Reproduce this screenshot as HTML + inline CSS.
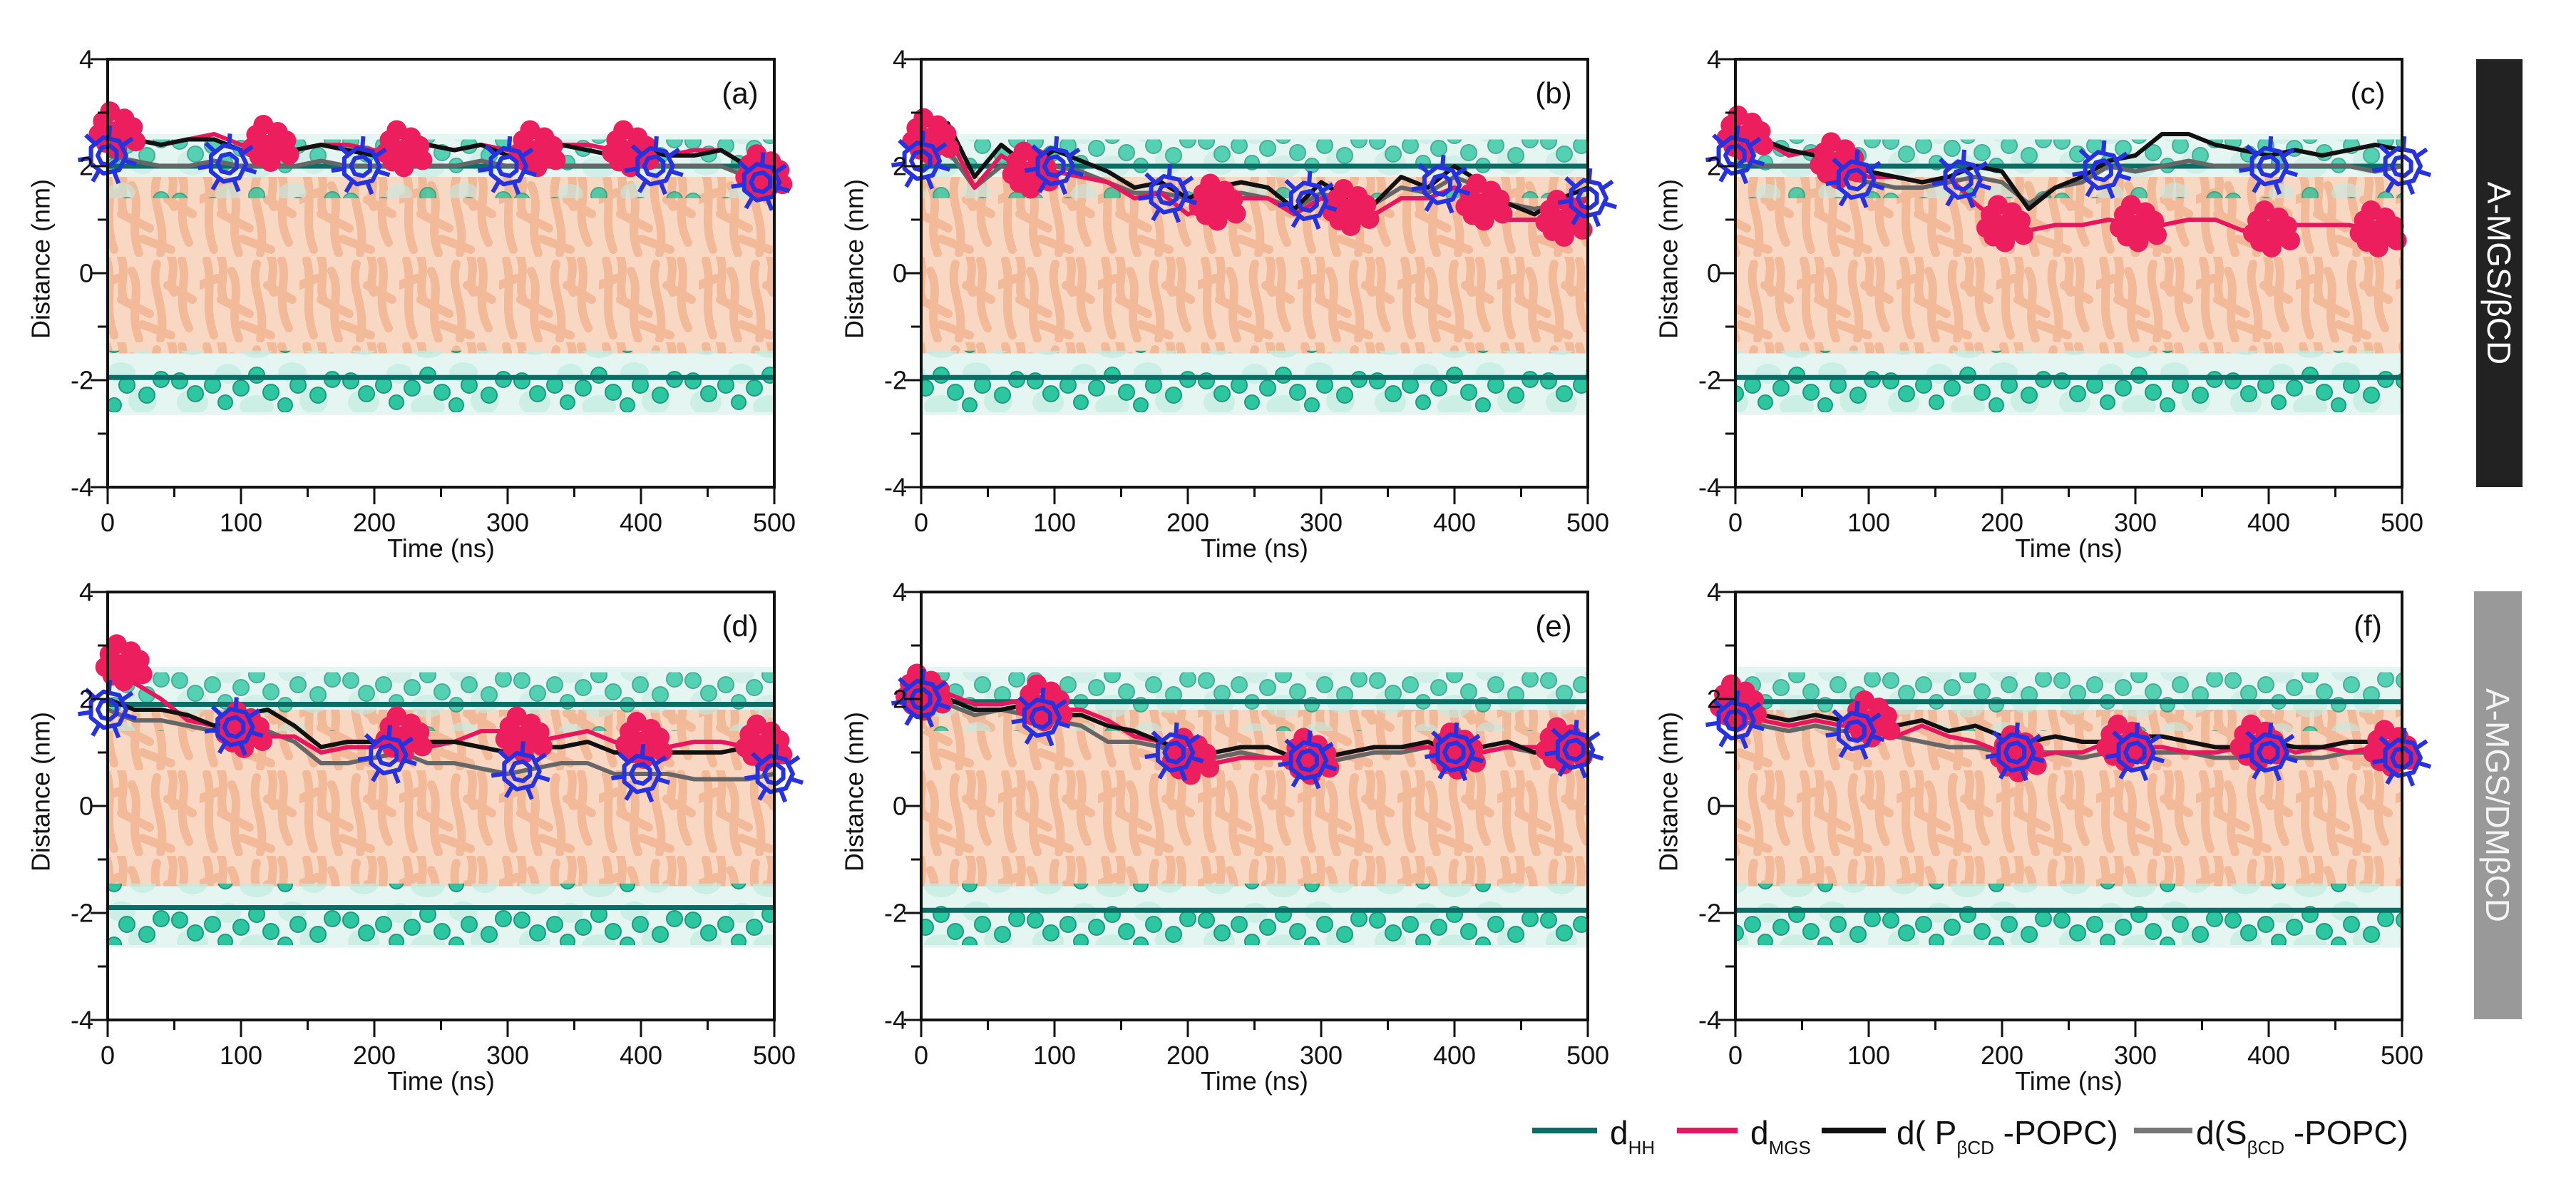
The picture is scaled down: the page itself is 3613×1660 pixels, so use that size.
<!DOCTYPE html>
<html><head><meta charset="utf-8"><title>Distance vs time panels</title>
<style>
html,body{margin:0;padding:0;background:#fff;}
svg{display:block;font-family:"Liberation Sans",Arial,sans-serif;}
</style></head>
<body>
<svg id="fig" xmlns="http://www.w3.org/2000/svg" width="3613" height="1660" viewBox="0 0 3613 1660">
<defs>
  <pattern id="tubes" patternUnits="userSpaceOnUse" width="140" height="120">
    <rect width="140" height="120" fill="#f8d6c0"/>
    <g fill="none" stroke="#efae88" stroke-width="12" stroke-linecap="round" opacity="0.8">
      <path d="M10 5 C20 40 5 70 20 110"/>
      <path d="M30 0 C38 25 26 40 34 60"/>
      <path d="M45 20 C60 50 40 75 55 115"/>
      <path d="M80 10 C70 45 95 70 85 115"/>
      <path d="M100 0 C108 20 96 38 104 50"/>
      <path d="M115 5 C125 35 105 60 125 100"/>
      <path d="M30 60 L70 80"/>
      <path d="M95 40 L130 60"/>
      <path d="M60 95 L100 110"/>
      <path d="M0 40 L25 30"/>
    </g>
  </pattern>
  <pattern id="spheres" patternUnits="userSpaceOnUse" width="240" height="84">
    <g fill="#c3ebe1" opacity="0.8">
      <ellipse cx="30" cy="60" rx="22" ry="18"/><ellipse cx="120" cy="66" rx="24" ry="16"/><ellipse cx="200" cy="58" rx="20" ry="18"/>
      <ellipse cx="80" cy="20" rx="18" ry="14"/><ellipse cx="170" cy="18" rx="20" ry="14"/>
    </g>
    <g fill="#22c49c" stroke="#139478" stroke-width="2">
      <circle cx="12" cy="30" r="11"/><circle cx="34" cy="48" r="11"/>
      <circle cx="58" cy="36" r="11"/><circle cx="98" cy="40" r="11"/>
      <circle cx="120" cy="22" r="11"/><circle cx="140" cy="46" r="11"/>
      <circle cx="178" cy="36" r="11"/><circle cx="206" cy="50" r="11"/>
      <circle cx="226" cy="28" r="11"/><circle cx="76" cy="60" r="10"/>
      <circle cx="160" cy="64" r="10"/>
    </g>
  </pattern>
</defs>
<g id="panels"></g>
<g id="legend"></g>
<g>
  <rect x="3473" y="83" width="65" height="600" fill="#222"/>
  <text x="3505" y="383" fill="#fff" font-size="46" text-anchor="middle" dominant-baseline="central" transform="rotate(90 3505 383)">A-MGS/βCD</text>
</g>
<g>
  <rect x="3470" y="829" width="67" height="600" fill="#999"/>
  <text x="3503" y="1129" fill="#f4f4f4" font-size="46" text-anchor="middle" dominant-baseline="central" transform="rotate(90 3503 1129)">A-MGS/DMβCD</text>
</g>
</svg>
<script>
// ---- data (time every 20 ns, 0..500) ----
const times = [0,20,40,60,80,100,120,140,160,180,200,220,240,260,280,300,320,340,360,380,400,420,440,460,480,500];
const panelLetters = ["(a)","(b)","(c)","(d)","(e)","(f)"];
const yTicks = [-4,-2,0,2,4];
const xTicks = [0,100,200,300,400,500];
const hhTop = [2.0,2.0,2.0,1.9,1.95,1.95];
const hhBottom = [-1.95,-1.95,-1.95,-1.9,-1.95,-1.95];

const pA = [2.6,2.5,2.4,2.5,2.5,2.3,2.4,2.3,2.4,2.3,2.2,2.3,2.4,2.3,2.4,2.2,2.2,2.4,2.3,2.2,2.3,2.2,2.2,2.3,2.0,1.6];
const sA = [2.2,2.1,2.0,2.0,2.1,2.0,2.0,2.0,2.1,2.0,2.0,2.0,2.0,2.0,2.1,2.0,2.0,2.0,2.0,2.0,2.0,2.0,2.0,2.0,1.8,1.6];
const mA = [2.7,2.5,2.4,2.5,2.6,2.4,2.4,2.3,2.4,2.4,2.3,2.3,2.4,2.3,2.4,2.3,2.3,2.4,2.4,2.3,2.3,2.2,2.3,2.3,2.0,1.7];

const pB = [2.3,2.8,1.8,2.4,2.0,2.3,2.1,1.9,1.6,1.7,1.4,1.6,1.7,1.6,1.2,1.7,1.4,1.3,1.8,1.6,2.0,1.7,1.3,1.1,1.4,1.6];
const sB = [2.1,2.3,1.6,2.0,1.9,2.0,1.9,1.7,1.5,1.5,1.4,1.5,1.5,1.4,1.2,1.5,1.3,1.3,1.6,1.5,1.8,1.6,1.3,1.2,1.3,1.4];
const mB = [2.5,2.6,1.6,2.2,1.9,1.9,1.8,1.7,1.4,1.5,1.1,1.3,1.4,1.4,1.1,1.4,1.2,1.1,1.4,1.4,1.6,1.3,1.0,1.0,1.0,1.4];

const pC = [2.5,2.5,2.3,2.2,2.1,1.9,1.8,1.7,1.8,2.0,1.9,1.2,1.6,1.8,2.1,2.2,2.6,2.6,2.4,2.3,2.2,2.3,2.2,2.3,2.4,2.3];
const sC = [2.2,2.0,2.0,2.0,1.8,1.7,1.6,1.6,1.7,1.8,1.7,1.3,1.6,1.7,2.0,1.9,2.0,2.1,2.0,2.0,2.0,2.0,2.0,2.0,1.9,2.0];
const mC = [2.6,2.5,2.2,2.3,2.0,1.8,1.8,1.7,1.8,1.3,0.9,0.8,0.9,0.9,1.0,0.9,0.9,1.0,1.0,0.8,0.8,0.9,0.9,0.9,0.8,0.9];

const pD = [2.0,1.8,1.8,1.7,1.5,1.7,1.8,1.5,1.1,1.2,1.2,1.4,1.2,1.2,1.1,1.0,1.1,1.1,1.2,1.0,1.0,1.0,1.0,1.0,1.1,1.0];
const sD = [1.8,1.6,1.6,1.5,1.4,1.5,1.4,1.2,0.8,0.8,0.9,1.0,0.8,0.8,0.7,0.6,0.7,0.8,0.8,0.6,0.6,0.6,0.5,0.5,0.5,0.6];
const mD = [3.0,2.3,2.0,1.6,1.5,1.4,1.3,1.3,1.0,1.1,1.1,1.3,1.1,1.2,1.4,1.4,1.2,1.3,1.4,1.2,1.2,1.1,1.2,1.2,1.1,1.2];

const pE = [2.0,2.0,1.8,1.8,1.9,1.7,1.7,1.5,1.4,1.2,1.0,1.0,1.1,1.1,0.9,0.9,1.0,1.1,1.1,1.2,1.0,1.1,1.2,1.0,1.1,1.2];
const sE = [2.0,1.9,1.7,1.8,1.7,1.6,1.5,1.2,1.2,1.1,0.9,0.9,1.0,0.9,0.9,0.8,0.9,1.0,1.0,1.1,1.0,1.0,1.1,1.0,1.0,1.1];
const mE = [2.1,2.1,1.9,1.9,2.0,1.8,1.8,1.6,1.3,1.2,0.9,0.8,0.9,0.9,0.9,0.9,1.0,1.1,1.1,1.1,1.0,1.0,1.1,1.1,1.1,1.2];

const pF = [1.8,1.7,1.6,1.7,1.6,1.7,1.5,1.6,1.4,1.5,1.3,1.2,1.3,1.2,1.2,1.3,1.3,1.2,1.1,1.1,1.2,1.1,1.1,1.2,1.2,1.1];
const sF = [1.6,1.5,1.4,1.5,1.4,1.4,1.3,1.2,1.1,1.1,1.0,1.0,1.0,0.9,1.0,1.0,1.0,1.0,0.9,0.9,1.0,0.9,0.9,1.0,1.0,0.9];
const mF = [1.9,1.6,1.5,1.6,1.5,1.6,1.3,1.5,1.3,1.2,1.0,0.9,1.0,1.0,1.2,1.1,1.1,1.0,1.0,1.1,1.2,1.0,1.1,1.0,1.1,1.0];

const pSeries = [pA,pB,pC,pD,pE,pF];
const sSeries = [sA,sB,sC,sD,sE,sF];
const mSeries = [mA,mB,mC,mD,mE,mF];
// snapshot positions (ns) of MGS (pink) and cyclodextrin (blue) molecules
const mgsSnapTimes = [[5,120,220,320,390,490],[5,80,220,320,420,480],[5,75,200,300,400,480],[10,100,220,310,400,490],[0,90,200,290,400,480],[0,100,210,290,390,490]];
const cdSnapTimes = [[0,90,190,300,410,490],[0,100,185,290,390,500],[0,90,170,275,400,500],[0,95,210,310,400,500],[0,90,190,290,400,490],[0,90,210,300,400,500]];

// ---- layout ----
const lefts = [151,1292,2434], tops = [83,830], W = 935, H = 600;
const NS = "http://www.w3.org/2000/svg";
function mk(tag, attrs, parent){ const e=document.createElementNS(NS,tag); for(const k in attrs) e.setAttribute(k,attrs[k]); if(parent) parent.appendChild(e); return e; }
function interp(arr,t){ const i=Math.min(times.length-2,Math.floor(t/20)); const f=(t-times[i])/20; return arr[i]+(arr[i+1]-arr[i])*f; }

const root = document.getElementById('panels');
for(let p=0;p<6;p++){
  const L=lefts[p%3], T=tops[Math.floor(p/3)];
  const xs = t => L + t/500*W;
  const ys = v => T + (4-v)/8*H;
  const g = mk('g',{},root);
  
  
  const cid='clip'+p;
  const cp = mk('clipPath',{id:cid},g); mk('rect',{x:L,y:T,width:W,height:H},cp);
  const bg = mk('g',{'clip-path':'url(#'+cid+')'},g);
  
  
  // teal translucent head regions
  mk('rect',{x:L,y:ys(2.6),width:W,height:ys(1.5)-ys(2.6),fill:'#d3f0e9',opacity:0.6},bg);
  mk('rect',{x:L,y:ys(-1.4),width:W,height:ys(-2.65)-ys(-1.4),fill:'#d3f0e9',opacity:0.6},bg);
  // lipid tails
  mk('rect',{x:L,y:ys(1.8),width:W,height:ys(-1.5)-ys(1.8),fill:'url(#tubes)',opacity:0.95},bg);
  // sphere rows
  mk('rect',{x:L,y:ys(2.5),width:W,height:ys(1.4)-ys(2.5),fill:'url(#spheres)',opacity:0.75},bg);
  mk('rect',{x:L,y:ys(-1.45),width:W,height:ys(-2.6)-ys(-1.45),fill:'url(#spheres)',opacity:0.95},bg);
  // dHH lines
  const hh1 = mk('line',{x1:xs(0),x2:xs(500),y1:ys(hhTop[p]),y2:ys(hhTop[p]),stroke:'#0a6e66','stroke-width':7},g);
  
  
  const hh2 = mk('line',{x1:xs(0),x2:xs(500),y1:ys(hhBottom[p]),y2:ys(hhBottom[p]),stroke:'#0a6e66','stroke-width':7},g);
  
  
  // series
  const defs=[[sSeries[p],'#666','s-popc-line'],[mSeries[p],'#e8175d','mgs-line'],[pSeries[p],'#111','p-popc-line']];
  for(const [arr,col,nm] of defs){
    const pts = times.map((t,i)=>xs(t).toFixed(1)+','+ys(arr[i]).toFixed(1)).join(' ');
    const pl = mk('polyline',{points:pts,fill:'none',stroke:col,'stroke-width':6,'stroke-linejoin':'round'},g);
    
    
  }
  // MGS snapshots (pink sphere clusters)
  for(const t of mgsSnapTimes[p]){
    const cx=xs(t), cy=ys(interp(mSeries[p],t));
    const c = mk('g',{fill:'#ec1e5e'},g);
    
    
    [[0,0],[-16,-14],[14,-18],[18,8],[-12,16],[4,24],[-22,4],[26,-6],[30,14],[-6,-28]].forEach(o=>mk('circle',{cx:cx+o[0],cy:cy+o[1],r:14},c));
  }
  // CD snapshots (blue rings)
  for(const t of cdSnapTimes[p]){
    const cx=xs(t), cy=ys(interp(sSeries[p],t));
    const c = mk('g',{fill:'none',stroke:'#2632e0','stroke-width':6,'stroke-linejoin':'round'},g);
    
    
    let pts=[];
    for(let k=0;k<7;k++){const a=k/7*Math.PI*2; pts.push((cx+26*Math.cos(a)).toFixed(1)+','+(cy+26*Math.sin(a)).toFixed(1));}
    mk('polygon',{points:pts.join(' ')},c);
    let pts2=[];
    for(let k=0;k<7;k++){const a=k/7*Math.PI*2+0.45; pts2.push((cx+14*Math.cos(a)).toFixed(1)+','+(cy+14*Math.sin(a)).toFixed(1));}
    mk('polygon',{points:pts2.join(' ')},c);
    for(let k=0;k<7;k++){const a=k/7*Math.PI*2+0.3; mk('line',{x1:cx+24*Math.cos(a),y1:cy+24*Math.sin(a),x2:cx+42*Math.cos(a),y2:cy+42*Math.sin(a)},c);}
  }
  // frame
  mk('rect',{x:L,y:T,width:W,height:H,fill:'none',stroke:'#111','stroke-width':4},g);
  // y ticks
  const ya = mk('g',{},g);
  
  
  for(let v=-4;v<=4;v++){ mk('line',{x1:L-(v%2===0?24:14),x2:L,y1:ys(v),y2:ys(v),stroke:'#111','stroke-width':3},ya); }
  for(const v of yTicks){ const tx=mk('text',{x:L-20,y:ys(v),'font-size':36,'text-anchor':'end','dominant-baseline':'central',fill:'#111'},ya); tx.textContent=String(v); }
  const yl = mk('text',{x:L-94,y:T+H/2-20,'font-size':36,'text-anchor':'middle','dominant-baseline':'central',transform:'rotate(-90 '+(L-94)+' '+(T+H/2-20)+')',fill:'#111'},ya);
  yl.textContent='Distance (nm)';
  
  
  // x ticks
  const xa = mk('g',{},g);
  
  
  for(let t=0;t<=500;t+=50){ mk('line',{x1:xs(t),x2:xs(t),y1:T+H,y2:T+H+(t%100===0?24:14),stroke:'#111','stroke-width':3},xa); }
  for(const t of xTicks){ const tx=mk('text',{x:xs(t),y:T+H+62,'font-size':36,'text-anchor':'middle',fill:'#111'},xa); tx.textContent=String(t); }
  const xl = mk('text',{x:L+W/2,y:T+H+98,'font-size':36,'text-anchor':'middle',fill:'#111'},xa);
  xl.textContent='Time (ns)';
  
  
  const lab = mk('text',{x:L+W-48,y:T+62,'font-size':42,'text-anchor':'middle',fill:'#111'},g);
  lab.textContent=panelLetters[p];
  
  
}

// ---- legend ----
const lg = document.getElementById('legend');
const legendItems = [
  {x1:2149,x2:2240,col:'#0a6e66',tx:2258,main:'d',sub:'HH',rest:''},
  {x1:2352,x2:2437,col:'#e8175d',tx:2455,main:'d',sub:'MGS',rest:''},
  {x1:2555,x2:2645,col:'#111',tx:2660,main:'d( P',sub:'βCD',rest:' -POPC)'},
  {x1:2993,x2:3075,col:'#777',tx:3080,main:'d(S',sub:'βCD',rest:' -POPC)'}
];
legendItems.forEach((it,i)=>{
  const e = mk('g',{},lg);
  
  
  mk('line',{x1:it.x1,x2:it.x2,y1:1585,y2:1585,stroke:it.col,'stroke-width':8},e);
  const t = mk('text',{x:it.tx,y:1604,'font-size':46,fill:'#111'},e);
  const a = mk('tspan',{},t); a.textContent=it.main;
  const b = mk('tspan',{'font-size':26,dy:14},t); b.textContent=it.sub;
  if(it.rest){ const c = mk('tspan',{dy:-14},t); c.textContent=it.rest; }
});
</script>
</body></html>
